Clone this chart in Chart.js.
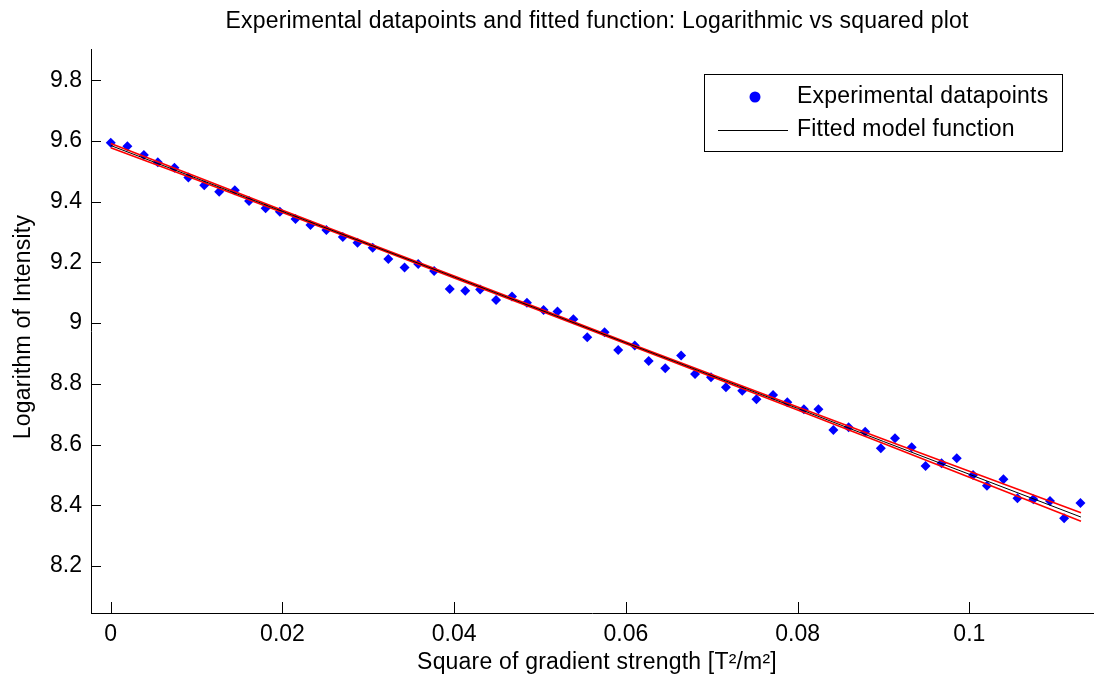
<!DOCTYPE html>
<html>
<head>
<meta charset="utf-8">
<script src="https://cdn.jsdelivr.net/npm/chart.js@4"></script>
<style>
  html, body { margin: 0; padding: 0; background: #fff; }
  #wrap { width: 1098px; height: 677px; }
</style>
</head>
<body>
<div id="wrap"><canvas id="myChart" width="1098" height="677"></canvas></div>
<script>
// data
const expX = [0, 0.00194, 0.00386, 0.00548, 0.00742, 0.00904, 0.01089, 0.01263, 0.01445, 0.01611,
  0.01804, 0.0197, 0.02152, 0.02326, 0.02511, 0.02703, 0.02874, 0.03051, 0.03233, 0.03422,
  0.03581, 0.03766, 0.03948, 0.04129, 0.04302, 0.04488, 0.04673, 0.04847, 0.05041, 0.05203,
  0.05388, 0.0555, 0.05751, 0.0591, 0.06103, 0.06265, 0.06458, 0.06643, 0.06805, 0.06991,
  0.07165, 0.07355, 0.0752, 0.07714, 0.0788, 0.08073, 0.08242, 0.08416, 0.08594, 0.08787,
  0.08969, 0.09134, 0.09328, 0.0949, 0.09676, 0.09853, 0.10043, 0.10205, 0.10397, 0.1056,
  0.10745, 0.10939, 0.11104, 0.11294];
const expY = [9.594, 9.583, 9.554, 9.530, 9.512, 9.480, 9.454, 9.433, 9.438, 9.402,
  9.378, 9.367, 9.343, 9.323, 9.307, 9.284, 9.265, 9.248, 9.211, 9.183,
  9.195, 9.172, 9.112, 9.107, 9.111, 9.076, 9.088, 9.067, 9.043, 9.038,
  9.013, 8.953, 8.970, 8.911, 8.926, 8.875, 8.851, 8.893, 8.832, 8.822,
  8.789, 8.777, 8.749, 8.763, 8.739, 8.716, 8.716, 8.648, 8.657, 8.642,
  8.588, 8.621, 8.591, 8.529, 8.538, 8.555, 8.500, 8.464, 8.486, 8.423,
  8.420, 8.414, 8.357, 8.407];

const fitX = [0, 0.01, 0.02, 0.03, 0.04, 0.05, 0.06, 0.07, 0.08, 0.09, 0.1, 0.113];
const fitY = [9.585, 9.477, 9.368, 9.260, 9.152, 9.044, 8.935, 8.827, 8.719, 8.610, 8.502, 8.361];
const bandUpper = [9.592, 9.482, 9.372, 9.263, 9.155, 9.047, 8.938, 8.831, 8.724, 8.617, 8.512, 8.375];
const bandLower = [9.578, 9.472, 9.364, 9.257, 9.149, 9.041, 8.932, 8.823, 8.714, 8.603, 8.492, 8.347];

const xTicks = [0, 0.02, 0.04, 0.06, 0.08, 0.1];
const xTickLabels = ["0", "0.02", "0.04", "0.06", "0.08", "0.1"];
const yTicks = [8.2, 8.4, 8.6, 8.8, 9.0, 9.2, 9.4, 9.6, 9.8];
const yTickLabels = ["8.2", "8.4", "8.6", "8.8", "9", "9.2", "9.4", "9.6", "9.8"];

const FONT = "Liberation Sans, Arial, sans-serif";
const FSIZE = 23;

const toPts = (xs, ys) => xs.map((x, i) => ({ x: x, y: ys[i] }));

const matlabLook = {
  id: "matlabLook",
  afterDraw: (chart) => {
    const { ctx, chartArea: a, scales } = chart;
    ctx.save();
    // inward ticks
    ctx.strokeStyle = "#000";
    ctx.lineWidth = 1;
    ctx.beginPath();
    yTicks.forEach((v) => {
      const py = Math.round(scales.y.getPixelForValue(v)) + 0.5;
      ctx.moveTo(a.left, py);
      ctx.lineTo(a.left + 10, py);
    });
    xTicks.forEach((v) => {
      const px = Math.round(scales.x.getPixelForValue(v)) + 0.5;
      ctx.moveTo(px, a.bottom);
      ctx.lineTo(px, a.bottom - 11);
    });
    ctx.stroke();

    // titles
    ctx.fillStyle = "#000";
    ctx.font = FSIZE + "px " + FONT;
    ctx.letterSpacing = "0.2px";
    ctx.textAlign = "center";
    ctx.textBaseline = "middle";
    ctx.fillText("Experimental datapoints and fitted function: Logarithmic vs squared plot", 597, 22);
    ctx.fillText("Square of gradient strength [T\u00b2/m\u00b2]", 597, 663);
    ctx.translate(24, 327);
    ctx.rotate(-Math.PI / 2);
    ctx.fillText("Logarithm of Intensity", 0, 0);
    ctx.setTransform(1, 0, 0, 1, 0, 0);

    // legend
    ctx.fillStyle = "#fff";
    ctx.fillRect(704, 74, 358, 77);
    ctx.strokeStyle = "#000";
    ctx.strokeRect(704.5, 74.5, 358, 77);
    ctx.fillStyle = "#0000ff";
    ctx.beginPath();
    ctx.arc(755, 97, 5.5, 0, Math.PI * 2);
    ctx.fill();
    ctx.beginPath();
    ctx.moveTo(718, 130.5);
    ctx.lineTo(788, 130.5);
    ctx.stroke();
    ctx.fillStyle = "#000";
    ctx.textAlign = "left";
    ctx.fillText("Experimental datapoints", 797, 97);
    ctx.fillText("Fitted model function", 797, 130);
    ctx.restore();
  },
};

new Chart(document.getElementById("myChart"), {
  type: "scatter",
  data: {
    datasets: [
      {
        label: "Experimental datapoints",
        data: toPts(expX, expY),
        pointStyle: "rectRot",
        pointRadius: 5,
        pointBorderWidth: 0,
        backgroundColor: "#0000ff",
        borderColor: "#0000ff",
        order: 3,
      },
      {
        label: "upper",
        type: "line",
        data: toPts(fitX, bandUpper),
        borderColor: "#ff0000",
        borderWidth: 1.6,
        pointRadius: 0,
        order: 2,
      },
      {
        label: "lower",
        type: "line",
        data: toPts(fitX, bandLower),
        borderColor: "#ff0000",
        borderWidth: 1.6,
        pointRadius: 0,
        order: 2,
      },
      {
        label: "Fitted model function",
        type: "line",
        data: toPts(fitX, fitY),
        borderColor: "#000000",
        borderWidth: 1,
        pointRadius: 0,
        order: 1,
      },
    ],
  },
  options: {
    responsive: false,
    animation: false,
    layout: { padding: { top: 49, right: 0, bottom: 0, left: 0 } },
    plugins: {
      legend: { display: false },
      title: { display: false },
      tooltip: { enabled: false },
    },
    scales: {
      x: {
        type: "linear",
        min: -0.0023,
        max: 0.1144,
        afterBuildTicks: (s) => { s.ticks = xTicks.map((v) => ({ value: v })); },
        afterFit: (s) => { s.height = 64; },
        grid: { display: true, drawOnChartArea: false, drawTicks: false },
        border: { display: true, color: "#000", width: 1 },
        ticks: {
          color: "#000",
          padding: 8,
          maxRotation: 0,
          font: { family: FONT, size: FSIZE },
          callback: (v, i) => xTickLabels[i],
        },
      },
      y: {
        type: "linear",
        min: 8.045,
        max: 9.903,
        afterBuildTicks: (s) => { s.ticks = yTicks.map((v) => ({ value: v })); },
        afterFit: (s) => { s.width = 91; },
        grid: { display: true, drawOnChartArea: false, drawTicks: false },
        border: { display: true, color: "#000", width: 1 },
        ticks: {
          color: "#000",
          padding: 9,
          font: { family: FONT, size: FSIZE },
          callback: (v, i) => yTickLabels[i],
        },
      },
    },
  },
  plugins: [matlabLook],
});
</script>
</body>
</html>
